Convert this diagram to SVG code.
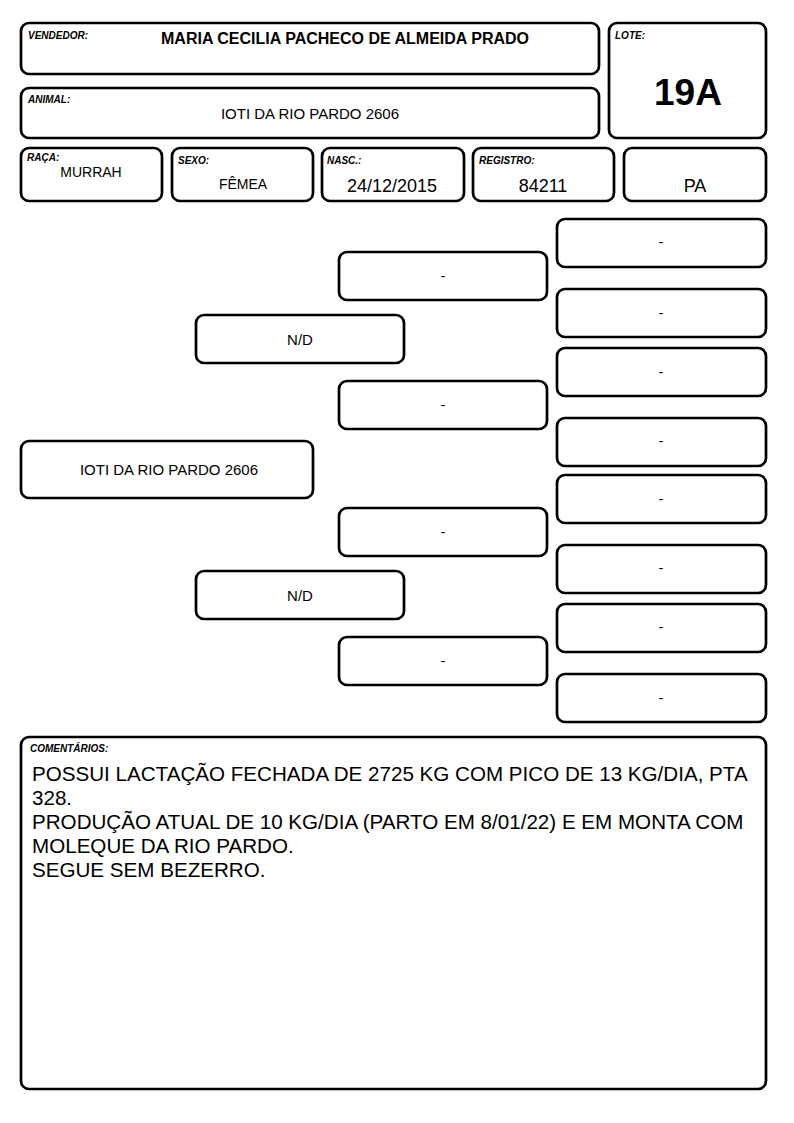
<svg xmlns="http://www.w3.org/2000/svg" width="794" height="1123" viewBox="0 0 794 1123">
<style>
rect.b{fill:#fff;stroke:#000;stroke-width:2.7}
text{font-family:"Liberation Sans",Arial,sans-serif;fill:#000}
.lbl{font-size:10px;font-weight:bold;font-style:italic}
.c{text-anchor:middle}
.p{font-size:15px;text-anchor:middle}
.cm{font-size:20.6px}
</style>
<rect width="794" height="1123" fill="#fff"/>
<g id="vendedor">
<rect class="b" x="21" y="23" width="578" height="51" rx="8"/>
<text class="lbl" x="28" y="39">VENDEDOR:</text>
<text class="c" x="345" y="44" font-size="16" font-weight="bold">MARIA CECILIA PACHECO DE ALMEIDA PRADO</text>
</g>
<g id="lote">
<rect class="b" x="609" y="23" width="157" height="115" rx="8"/>
<text class="lbl" x="615" y="39">LOTE:</text>
<text class="c" x="688" y="105" font-size="37" font-weight="bold">19A</text>
</g>
<g id="animal">
<rect class="b" x="21" y="88" width="578" height="50" rx="8"/>
<text class="lbl" x="28" y="103">ANIMAL:</text>
<text class="c" x="310" y="119" font-size="15">IOTI DA RIO PARDO 2606</text>
</g>
<g id="raca">
<rect class="b" x="21" y="148" width="141" height="53" rx="8"/>
<text class="lbl" x="27" y="161">RAÇA:</text>
<text class="c" x="91" y="177" font-size="14">MURRAH</text>
</g>
<g id="sexo">
<rect class="b" x="172" y="148" width="141" height="53" rx="8"/>
<text class="lbl" x="178" y="164">SEXO:</text>
<text class="c" x="243" y="189" font-size="14">FÊMEA</text>
</g>
<g id="nasc">
<rect class="b" x="322" y="148" width="142" height="53" rx="8"/>
<text class="lbl" x="327" y="164">NASC.:</text>
<text class="c" x="392" y="192" font-size="18">24/12/2015</text>
</g>
<g id="registro">
<rect class="b" x="473" y="148" width="141" height="53" rx="8"/>
<text class="lbl" x="479" y="164">REGISTRO:</text>
<text class="c" x="543" y="192" font-size="18">84211</text>
</g>
<g id="pa">
<rect class="b" x="624" y="148" width="142" height="53" rx="8"/>
<text class="c" x="695" y="192" font-size="18">PA</text>
</g>
<g id="connectors"></g>
<g id="ped-animal">
<rect class="b" x="21" y="441" width="292" height="57" rx="8"/>
<text class="p" x="169" y="475">IOTI DA RIO PARDO 2606</text>
</g>
<g id="ped-g1a"><rect class="b" x="196" y="315" width="208" height="48" rx="8"/><text class="p" x="300" y="345">N/D</text></g>
<g id="ped-g1b"><rect class="b" x="196" y="571" width="208" height="48" rx="8"/><text class="p" x="300" y="601">N/D</text></g>
<g id="ped-g2a"><rect class="b" x="339" y="252" width="208" height="48" rx="8"/><text class="p" x="443" y="281">-</text></g>
<g id="ped-g2b"><rect class="b" x="339" y="381" width="208" height="48" rx="8"/><text class="p" x="443" y="410">-</text></g>
<g id="ped-g2c"><rect class="b" x="339" y="508" width="208" height="48" rx="8"/><text class="p" x="443" y="537">-</text></g>
<g id="ped-g2d"><rect class="b" x="339" y="637" width="208" height="48" rx="8"/><text class="p" x="443" y="666">-</text></g>
<g id="ped-g3a"><rect class="b" x="557" y="219" width="209" height="48" rx="8"/><text class="p" x="661" y="247">-</text></g>
<g id="ped-g3b"><rect class="b" x="557" y="289" width="209" height="48" rx="8"/><text class="p" x="661" y="318">-</text></g>
<g id="ped-g3c"><rect class="b" x="557" y="348" width="209" height="48" rx="8"/><text class="p" x="661" y="377">-</text></g>
<g id="ped-g3d"><rect class="b" x="557" y="418" width="209" height="48" rx="8"/><text class="p" x="661" y="446">-</text></g>
<g id="ped-g3e"><rect class="b" x="557" y="475" width="209" height="48" rx="8"/><text class="p" x="661" y="504">-</text></g>
<g id="ped-g3f"><rect class="b" x="557" y="545" width="209" height="48" rx="8"/><text class="p" x="661" y="573">-</text></g>
<g id="ped-g3g"><rect class="b" x="557" y="604" width="209" height="48" rx="8"/><text class="p" x="661" y="632">-</text></g>
<g id="ped-g3h"><rect class="b" x="557" y="674" width="209" height="48" rx="8"/><text class="p" x="661" y="703">-</text></g>
<g id="comentarios">
<rect class="b" x="21" y="737" width="745" height="352" rx="8"/>
<text class="lbl" x="30" y="752">COMENTÁRIOS:</text>
<text class="cm" x="32" y="781">POSSUI LACTAÇÃO FECHADA DE 2725 KG COM PICO DE 13 KG/DIA, PTA</text>
<text class="cm" x="32" y="805">328.</text>
<text class="cm" x="32" y="829">PRODUÇÃO ATUAL DE 10 KG/DIA (PARTO EM 8/01/22) E EM MONTA COM</text>
<text class="cm" x="32" y="853">MOLEQUE DA RIO PARDO.</text>
<text class="cm" x="32" y="877">SEGUE SEM BEZERRO.</text>
</g>
</svg>
